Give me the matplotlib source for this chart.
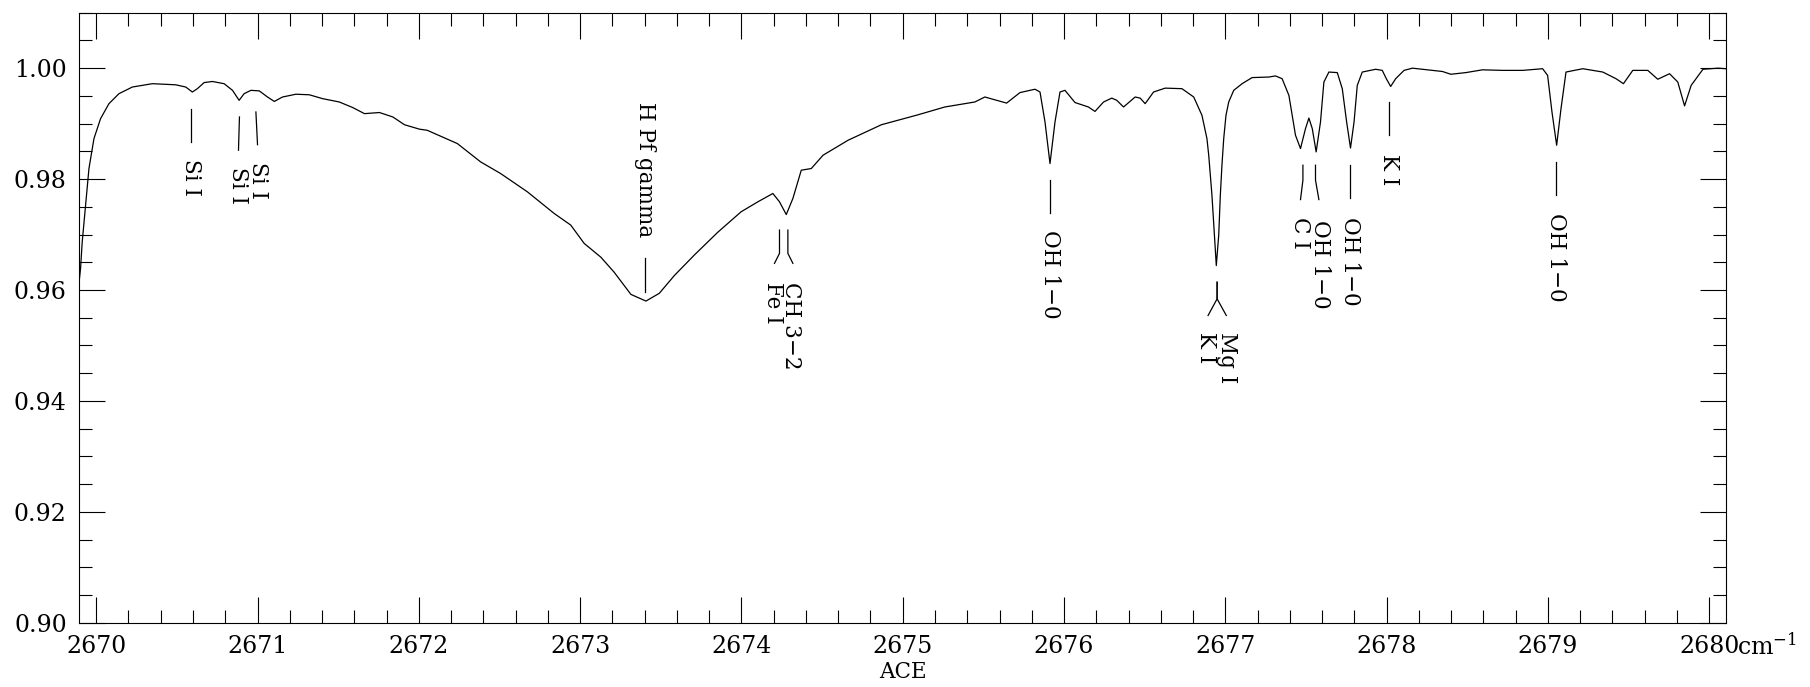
import matplotlib
matplotlib.use("Agg")
import matplotlib.pyplot as plt
from matplotlib.ticker import MultipleLocator, FormatStrFormatter

plt.rcParams["font.family"] = "DejaVu Serif"
plt.rcParams["mathtext.fontset"] = "dejavuserif"

# spectrum (wavenumber in cm^-1, normalised flux)
spec_wn = [
    2669.893, 2669.903, 2669.913, 2669.934, 2669.955, 2669.986, 2670.027, 2670.079,
    2670.141, 2670.224, 2670.348, 2670.493, 2670.555, 2670.596, 2670.627, 2670.669,
    2670.720, 2670.793, 2670.845, 2670.886, 2670.917, 2670.959, 2671.011, 2671.062,
    2671.104, 2671.155, 2671.238, 2671.321, 2671.404, 2671.507, 2671.590, 2671.663,
    2671.756, 2671.839, 2671.911, 2672.004, 2672.052, 2672.239, 2672.383, 2672.507,
    2672.673, 2672.839, 2672.942, 2673.025, 2673.129, 2673.211, 2673.315, 2673.408,
    2673.491, 2673.584, 2673.708, 2673.853, 2673.998, 2674.102, 2674.195, 2674.236,
    2674.278, 2674.319, 2674.371, 2674.433, 2674.506, 2674.661, 2674.868, 2675.096,
    2675.261, 2675.447, 2675.509, 2675.644, 2675.727, 2675.820, 2675.851, 2675.882,
    2675.913, 2675.944, 2675.975, 2676.006, 2676.068, 2676.151, 2676.192, 2676.245,
    2676.296, 2676.327, 2676.369, 2676.441, 2676.472, 2676.503, 2676.555, 2676.627,
    2676.731, 2676.804, 2676.855, 2676.886, 2676.897, 2676.917, 2676.932, 2676.944,
    2676.959, 2676.969, 2676.979, 2676.990, 2677.004, 2677.021, 2677.052, 2677.104,
    2677.166, 2677.270, 2677.311, 2677.352, 2677.394, 2677.435, 2677.466, 2677.497,
    2677.518, 2677.539, 2677.563, 2677.590, 2677.611, 2677.642, 2677.694, 2677.725,
    2677.752, 2677.776, 2677.798, 2677.818, 2677.849, 2677.932, 2677.973, 2677.998,
    2678.025, 2678.056, 2678.108, 2678.160, 2678.346, 2678.398, 2678.491, 2678.594,
    2678.719, 2678.843, 2678.967, 2678.998, 2679.025, 2679.054, 2679.081, 2679.112,
    2679.216, 2679.340, 2679.422, 2679.468, 2679.526, 2679.619, 2679.681, 2679.754,
    2679.805, 2679.847, 2679.888, 2679.961, 2680.054, 2680.104,
]
spec_flux = [
    0.9612, 0.9639, 0.9686, 0.9753, 0.9819, 0.9873, 0.9909, 0.9936,
    0.9954, 0.9966, 0.9972, 0.9970, 0.9966, 0.9957, 0.9963, 0.9974,
    0.9976, 0.9972, 0.9960, 0.9942, 0.9954, 0.9960, 0.9959, 0.9948,
    0.9940, 0.9948, 0.9953, 0.9952, 0.9945, 0.9939, 0.9929, 0.9918,
    0.9920, 0.9912, 0.9898, 0.9890, 0.9888, 0.9864, 0.9831, 0.9810,
    0.9777, 0.9738, 0.9717, 0.9684, 0.9659, 0.9632, 0.9592, 0.9580,
    0.9594, 0.9626, 0.9663, 0.9704, 0.9741, 0.9759, 0.9774, 0.9759,
    0.9736, 0.9765, 0.9816, 0.9819, 0.9843, 0.9870, 0.9898, 0.9916,
    0.9930, 0.9939, 0.9948, 0.9937, 0.9956, 0.9962, 0.9957, 0.9903,
    0.9828, 0.9903, 0.9957, 0.9960, 0.9938, 0.9930, 0.9922, 0.9939,
    0.9946, 0.9942, 0.9930, 0.9948, 0.9946, 0.9936, 0.9957, 0.9964,
    0.9963, 0.9948, 0.9915, 0.9873, 0.9843, 0.9771, 0.9699, 0.9644,
    0.9699, 0.9771, 0.9825, 0.9873, 0.9915, 0.9939, 0.9960, 0.9972,
    0.9983, 0.9984, 0.9986, 0.9981, 0.9951, 0.9879, 0.9855, 0.9891,
    0.9910, 0.9891, 0.9849, 0.9903, 0.9975, 0.9993, 0.9992, 0.9963,
    0.9903, 0.9856, 0.9903, 0.9969, 0.9993, 0.9998, 0.9996, 0.9981,
    0.9967, 0.9981, 0.9996, 1.0000, 0.9994, 0.9989, 0.9992, 0.9997,
    0.9996, 0.9996, 0.9999, 0.9987, 0.9921, 0.9861, 0.9927, 0.9993,
    0.9999, 0.9993, 0.9981, 0.9972, 0.9996, 0.9996, 0.9980, 0.9990,
    0.9975, 0.9932, 0.9969, 0.9998, 1.0000, 0.9999,
]

# line identifications: marker path and label anchor (top of rotated text)
id_labels = ["Si I", "Si I", "Si I", "H Pf gamma", "Fe I", "CH 3\u22122",
             "OH 1\u22120", "K I", "Mg I", "C I", "OH 1\u22120", "OH 1\u22120",
             "K I", "OH 1\u22120"]
id_path_x = [
    [2670.586, 2670.586],
    [2670.888, 2670.882],
    [2670.990, 2671.000],
    [2673.404, 2673.404],
    [2674.236, 2674.236, 2674.205],
    [2674.288, 2674.288, 2674.319],
    [2675.913, 2675.913],
    [2676.949, 2676.949, 2676.893],
    [2676.949, 2676.949, 2677.006],
    [2677.481, 2677.481, 2677.466],
    [2677.559, 2677.559, 2677.580],
    [2677.773, 2677.773],
    [2678.015, 2678.015],
    [2679.052, 2679.052],
]
id_path_y = [
    [0.9927, 0.9867],
    [0.9912, 0.9852],
    [0.9921, 0.9862],
    [0.9657, 0.9596],
    [0.9708, 0.9666, 0.9648],
    [0.9708, 0.9666, 0.9648],
    [0.9798, 0.9738],
    [0.9614, 0.9584, 0.9554],
    [0.9614, 0.9584, 0.9554],
    [0.9825, 0.9798, 0.9763],
    [0.9825, 0.9798, 0.9763],
    [0.9825, 0.9765],
    [0.9939, 0.9879],
    [0.9831, 0.9771],
]
id_text_x = [2670.586, 2670.880, 2671.004, 2673.404, 2674.195, 2674.309,
             2675.913, 2676.880, 2677.011, 2677.466, 2677.584, 2677.773,
             2678.015, 2679.052]
id_text_y = [0.9837, 0.9821, 0.9830, 0.9939, 0.9614, 0.9614,
             0.9708, 0.9524, 0.9524, 0.9732, 0.9726, 0.9732,
             0.9846, 0.9738]

x_ticks = [2670, 2671, 2672, 2673, 2674, 2675, 2676, 2677, 2678, 2679, 2680]
y_ticks = [0.90, 0.92, 0.94, 0.96, 0.98, 1.00]

fig = plt.figure(figsize=(18.10, 6.87), dpi=100)
ax = fig.add_axes([0.0438, 0.0936, 0.9098, 0.8879])

ax.plot(spec_wn, spec_flux, color="black", lw=0.9)

for px, py in zip(id_path_x, id_path_y):
    ax.plot(px, py, color="black", lw=0.9)
for lab, tx, ty in zip(id_labels, id_text_x, id_text_y):
    ax.text(tx, ty, lab, rotation=-90, ha="center", va="top", fontsize=15.5)

ax.set_xlim(2669.895, 2680.104)
ax.set_ylim(0.90, 1.01)
ax.set_xticks(x_ticks)
ax.set_yticks(y_ticks)
ax.xaxis.set_minor_locator(MultipleLocator(0.2))
ax.yaxis.set_minor_locator(MultipleLocator(0.005))
ax.yaxis.set_major_formatter(FormatStrFormatter("%.2f"))
ax.tick_params(which="both", direction="in", top=True, right=True, width=0.8)
ax.tick_params(which="major", length=19, labelsize=17, pad=9)
ax.tick_params(which="minor", length=9.5)
for sp in ax.spines.values():
    sp.set_linewidth(0.8)

ax.text(1.0065, -0.053, "cm$^{-1}$", transform=ax.transAxes, fontsize=17,
        ha="left", va="baseline")
ax.set_xlabel("ACE", fontsize=15.5, labelpad=2)

fig.savefig("out.png", dpi=100)
